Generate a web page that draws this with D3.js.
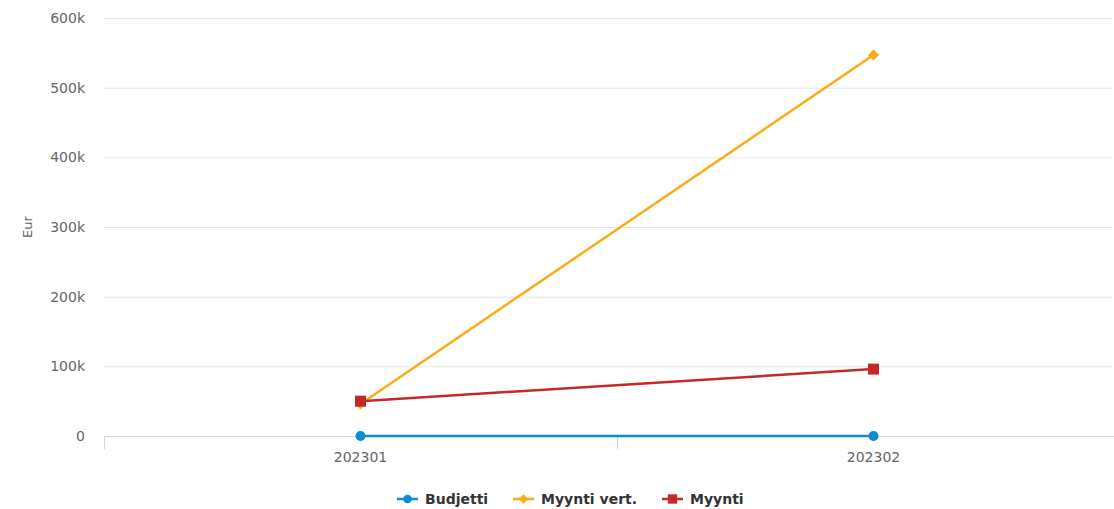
<!DOCTYPE html>
<html>
<head>
<meta charset="UTF-8">
<script src="https://cdnjs.cloudflare.com/ajax/libs/d3/7.8.5/d3.min.js"></script>
<style>
  body { margin: 0; background: #fff; }
  text { font-family: "DejaVu Sans", sans-serif; }
</style>
</head>
<body>
<svg id="chart" width="1114" height="509"></svg>
<script>
// data
const categories = ["202301", "202302"];
const budjetti = [0, 0];
const myyntiVert = [46000, 547000];
const myynti = [50000, 96000];
const yTicks = [0, 100000, 200000, 300000, 400000, 500000, 600000];
const yTickLabels = ["0", "100k", "200k", "300k", "400k", "500k", "600k"];

const series = [
  { name: "Budjetti", values: budjetti, color: "#0c8bd3", marker: "circle" },
  { name: "Myynti vert.", values: myyntiVert, color: "#fbac14", marker: "diamond" },
  { name: "Myynti", values: myynti, color: "#c62828", marker: "square" }
];

const svg = d3.select("#chart");
const plotLeft = 104, plotRight = 1130, plotTop = 18, plotBottom = 436;

const x = d3.scaleBand().domain(categories).range([plotLeft, plotRight]);
const y = d3.scaleLinear().domain([0, 600000]).range([plotBottom, plotTop]);
const cx = d => x(d) + x.bandwidth() / 2;

// grid
svg.append("g")
  .selectAll("line")
  .data(yTicks.slice(1))
  .enter().append("line")
  .attr("x1", plotLeft).attr("x2", 1113)
  .attr("y1", d => y(d) + 0.5).attr("y2", d => y(d) + 0.5)
  .attr("stroke", "#e6e6e6").attr("stroke-width", 1);

// y labels
svg.append("g")
  .selectAll("text")
  .data(yTicks)
  .enter().append("text")
  .attr("x", 85).attr("y", d => y(d) + 5)
  .attr("text-anchor", "end")
  .attr("font-size", 14).attr("fill", "#666")
  .text((d, i) => yTickLabels[i]);

svg.append("text")
  .attr("transform", "translate(32," + 227 + ") rotate(-90)")
  .attr("text-anchor", "middle")
  .attr("font-size", 13).attr("fill", "#666")
  .text("Eur");

// x axis
svg.append("line")
  .attr("x1", plotLeft).attr("x2", 1114)
  .attr("y1", plotBottom + 0.5).attr("y2", plotBottom + 0.5)
  .attr("stroke", "#ccd6eb");
svg.append("g")
  .selectAll("line")
  .data(categories)
  .enter().append("line")
  .attr("x1", d => x(d) + 0.5).attr("x2", d => x(d) + 0.5)
  .attr("y1", plotBottom).attr("y2", plotBottom + 13)
  .attr("stroke", "#ccd6eb");
svg.append("g")
  .selectAll("text")
  .data(categories)
  .enter().append("text")
  .attr("x", cx)
  .attr("y", 462)
  .attr("text-anchor", "middle")
  .attr("font-size", 14).attr("fill", "#666")
  .text(d => d);

function drawMarker(g, type, px, py, color, s) {
  if (type === "circle") {
    g.append("circle").attr("cx", px).attr("cy", py).attr("r", 5 * s).attr("fill", color);
  } else if (type === "square") {
    g.append("rect").attr("x", px - 5.5 * s).attr("y", py - 5.5 * s)
      .attr("width", 11 * s).attr("height", 11 * s).attr("fill", color);
  } else {
    const r = 5.5 * s;
    g.append("path")
      .attr("d", `M${px},${py - r}L${px + r},${py}L${px},${py + r}L${px - r},${py}Z`)
      .attr("fill", color);
  }
}

const line = d3.line()
  .x((d, i) => cx(categories[i]))
  .y(d => y(d));

series.forEach(s => {
  const g = svg.append("g");
  g.append("path")
    .datum(s.values)
    .attr("d", line)
    .attr("fill", "none")
    .attr("stroke", s.color)
    .attr("stroke-width", 2.5);
  s.values.forEach((v, i) => {
    drawMarker(g, s.marker, cx(categories[i]), y(v), s.color, 1);
  });
});

// legend
const legendX = [397, 513, 662];
series.forEach((s, i) => {
  const lx = legendX[i], ly = 499;
  const g = svg.append("g");
  g.append("line").attr("x1", lx).attr("x2", lx + 21)
    .attr("y1", ly).attr("y2", ly)
    .attr("stroke", s.color).attr("stroke-width", 2.5);
  drawMarker(g, s.marker, lx + 10.5, ly, s.color, 0.85);
  g.append("text").attr("x", lx + 28).attr("y", ly + 5)
    .attr("font-size", 14).attr("font-weight", "bold").attr("fill", "#333")
    .text(s.name);
});
</script>
</body>
</html>
